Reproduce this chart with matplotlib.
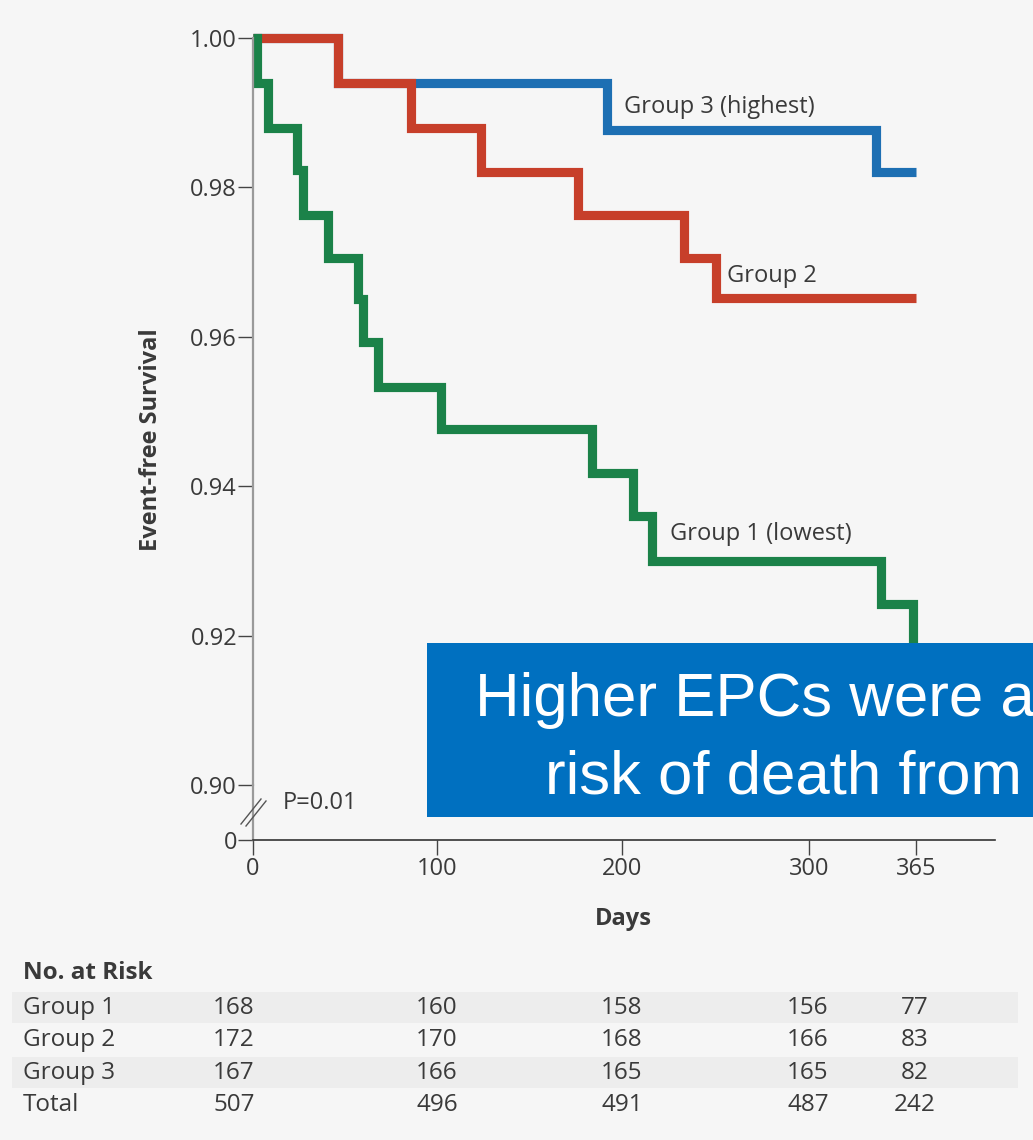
import numpy as np
import matplotlib
matplotlib.use('Agg')
import matplotlib.pyplot as plt
from matplotlib.patches import Rectangle
from matplotlib.lines import Line2D

# Kaplan-Meier steps (days, event-free survival)
g1_days = [0, 2, 8, 24, 27, 41, 57, 60, 68, 102, 184, 206, 216, 344, 363, 365]
g1_surv = [1.0, 0.994, 0.988, 0.9823, 0.9763, 0.9706, 0.965, 0.9593, 0.9533,
           0.9476, 0.9418, 0.936, 0.930, 0.9242, 0.918, 0.918]
g2_days = [0, 46, 86, 124, 176, 233, 250, 365]
g2_surv = [1.0, 0.994, 0.988, 0.982, 0.9763, 0.9706, 0.9652, 0.9652]
g3_days = [0, 46, 192, 341, 365]
g3_surv = [1.0, 0.994, 0.9877, 0.982, 0.982]

day_ticks = [0, 100, 200, 300, 365]
surv_ticks = [0.90, 0.92, 0.94, 0.96, 0.98, 1.00]

risk_groups = ['Group 1', 'Group 2', 'Group 3', 'Total']
risk_g1 = [168, 160, 158, 156, 77]
risk_g2 = [172, 170, 168, 166, 83]
risk_g3 = [167, 166, 165, 165, 82]
risk_total = [507, 496, 491, 487, 242]

# the original day axis is not evenly spaced (365 sits close to 300)
scale_days = [0, 100, 200, 300, 365, 413]
scale_pos = [0, 184, 369, 556, 663, 742]


def fwd(d):
    return np.interp(d, scale_days, scale_pos)


def inv(p):
    return np.interp(p, scale_pos, scale_days)


W, H = 1033, 1140
bg = '#f6f6f6'
txt = '#3a3a3a'
green, red, blue = '#1b8249', '#c73f2a', '#1d6fb3'
fs = 17

plt.rcParams['font.family'] = ['Open Sans', 'DejaVu Sans']


def fx(px):
    return px / W


def fy(py):
    return 1 - py / H


fig = plt.figure(figsize=(W / 100, H / 100), dpi=100, facecolor=bg)

# main survival panel
ax = fig.add_axes([fx(253), fy(785), (995 - 253) / W, (785 - 38) / H])
ax.set_facecolor('none')
ax.set_xscale('function', functions=(fwd, inv))
ax.set_xlim(0, 413)
ax.set_ylim(0.90, 1.00)
for s in ['top', 'right', 'bottom']:
    ax.spines[s].set_visible(False)
ax.spines['left'].set_color('#9a9a9a')
ax.spines['left'].set_linewidth(1.6)
ax.set_xticks([])
ax.set_yticks(surv_ticks)
ax.set_yticklabels(['%.2f' % v for v in surv_ticks])
ax.tick_params(axis='y', length=10.5, width=1, color='#444444', pad=1,
               labelsize=fs, labelcolor=txt)

lw = 6.6
ax.step(g3_days, g3_surv, where='post', color=blue, lw=lw, clip_on=False,
        solid_joinstyle='miter', solid_capstyle='butt')
ax.step(g2_days, g2_surv, where='post', color=red, lw=lw, clip_on=False,
        solid_joinstyle='miter', solid_capstyle='butt')
ax.step(g1_days, g1_surv, where='post', color=green, lw=lw, clip_on=False,
        solid_joinstyle='miter', solid_capstyle='butt')

# lower strip with the broken y axis and the day axis
ax2 = fig.add_axes([fx(253), fy(840), (995 - 253) / W, 55 / H])
ax2.set_facecolor('none')
ax2.set_xscale('function', functions=(fwd, inv))
ax2.set_xlim(0, 413)
ax2.set_ylim(0, 1)
ax2.spines['top'].set_visible(False)
ax2.spines['right'].set_visible(False)
ax2.spines['left'].set_color('#9a9a9a')
ax2.spines['left'].set_linewidth(1.6)
ax2.spines['bottom'].set_color('#333333')
ax2.spines['bottom'].set_linewidth(1.2)
ax2.set_xticks(day_ticks)
ax2.set_xticklabels([str(d) for d in day_ticks])
ax2.set_yticks([0])
ax2.set_yticklabels(['0'])
ax2.tick_params(axis='both', length=10.5, width=1, color='#444444', pad=1,
                labelsize=fs, labelcolor=txt)
ax2.tick_params(axis='x', pad=2)

# axis break marks
for off in (0, 5):
    fig.add_artist(Line2D([fx(241 + off), fx(261 + off)], [fy(824 + off * 0.4), fy(799 + off * 0.4)],
                          transform=fig.transFigure, color='#555555', lw=1))

fig.text(fx(151), fy(440), 'Event-free Survival', rotation=90, ha='center', va='center',
         fontsize=fs, fontweight='bold', color=txt)
fig.text(fx(623), fy(919), 'Days', ha='center', va='center', fontsize=fs,
         fontweight='bold', color=txt)

fig.text(fx(624), fy(107), 'Group 3 (highest)', ha='left', va='center', fontsize=fs, color=txt)
fig.text(fx(727), fy(276), 'Group 2', ha='left', va='center', fontsize=fs, color=txt)
fig.text(fx(670), fy(534), 'Group 1 (lowest)', ha='left', va='center', fontsize=fs, color=txt)
fig.text(fx(283), fy(803), 'P=0.01', ha='left', va='center', fontsize=fs, color=txt)

# number at risk table
tfs = 17.5
fig.text(fx(23), fy(973), 'No. at Risk', ha='left', va='center', fontsize=tfs,
         fontweight='bold', color=txt)
row_y = [1008, 1040, 1073, 1105]
for band in (0, 2):
    fig.add_artist(Rectangle((fx(12), fy(row_y[band] + 15)), (1018 - 12) / W, 31 / H,
                             transform=fig.transFigure, color='#ededed', lw=0, zorder=-1))
col_x = [234, 437, 622, 808, 915]
for name, vals, y in zip(risk_groups, [risk_g1, risk_g2, risk_g3, risk_total], row_y):
    fig.text(fx(23), fy(y), name, ha='left', va='center', fontsize=tfs, color=txt)
    for v, x in zip(vals, col_x):
        fig.text(fx(x), fy(y), str(v), ha='center', va='center', fontsize=tfs, color=txt)

# blue callout box overlapping the chart
fig.add_artist(Rectangle((fx(427), fy(817)), (W - 427) / W + 0.01, (817 - 643) / H,
                         transform=fig.transFigure, color='#0070c0', lw=0, zorder=5))
fig.text(fx(475), fy(716), 'Higher EPCs were a', ha='left', va='baseline', fontsize=44.5,
         color='white', family=['Liberation Sans', 'DejaVu Sans'], zorder=6)
fig.text(fx(545), fy(793), 'risk of death from', ha='left', va='baseline', fontsize=44.5,
         color='white', family=['Liberation Sans', 'DejaVu Sans'], zorder=6)

fig.savefig('out.png', dpi=100, facecolor=bg)
